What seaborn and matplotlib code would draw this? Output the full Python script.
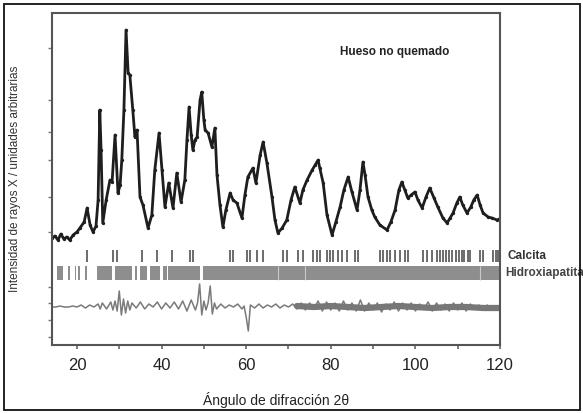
import numpy as np
import pandas as pd
import matplotlib
matplotlib.use("Agg")
import matplotlib.pyplot as plt
from matplotlib.patches import Rectangle
import seaborn as sns

# ---- data (2theta in degrees, intensity in arbitrary units) ----
two_theta = [14.1, 14.8, 15.5, 16.2, 16.9, 17.6, 18.3, 19.1, 20.0, 20.7, 21.7, 22.4, 23.1, 23.8,
             24.5, 25.0, 25.4, 25.7, 26.1, 26.9, 27.8, 28.3, 29.0, 29.7, 30.2, 30.6, 31.1, 31.6,
             32.1, 32.5, 33.2, 33.7, 34.2, 34.9, 35.6, 36.8, 37.7, 38.4, 39.4, 40.1, 40.8, 41.7,
             42.7, 43.6, 44.6, 45.5, 46.0, 46.5, 47.0, 47.4, 47.9, 48.4, 49.1, 49.5, 50.0, 50.3,
             51.0, 51.9, 52.6, 53.1, 53.8, 54.5, 55.2, 56.2, 56.9, 57.8, 59.0, 59.7, 60.4, 61.6,
             62.3, 63.3, 64.0, 64.9, 66.1, 66.8, 67.5, 68.5, 69.6, 70.6, 71.5, 72.7, 73.4, 74.4,
             75.6, 76.3, 77.0, 77.4, 78.2, 79.1, 80.3, 81.2, 82.2, 83.1, 84.1, 85.0, 86.2, 86.9,
             87.6, 88.1, 88.8, 89.7, 90.4, 91.6, 93.3, 94.2, 95.2, 96.1, 96.8, 97.5, 98.2, 99.0,
             99.9, 100.6, 101.6, 102.5, 103.4, 104.4, 105.3, 106.5, 107.5, 108.2, 108.9, 109.8,
             110.5, 111.2, 112.2, 113.1, 113.8, 114.6, 115.3, 116.0, 117.2, 118.1, 119.3, 119.8]
intensity = [107, 109, 105, 111, 106, 108, 105, 110, 113, 117, 123, 137, 120, 113,
             119, 145, 235, 195, 122, 145, 165, 163, 210, 152, 160, 185, 235, 315,
             272, 270, 235, 208, 215, 148, 140, 117, 130, 175, 212, 175, 138, 162,
             137, 172, 143, 165, 205, 238, 210, 195, 205, 208, 245, 253, 225, 215,
             212, 198, 217, 170, 140, 118, 135, 152, 145, 142, 127, 150, 168, 177,
             162, 190, 203, 182, 148, 125, 112, 117, 125, 145, 158, 142, 155, 165,
             175, 180, 185, 177, 162, 130, 110, 123, 138, 155, 168, 153, 135, 155,
             183, 170, 148, 135, 128, 120, 115, 123, 135, 155, 163, 155, 147, 150,
             153, 145, 137, 148, 157, 147, 138, 127, 122, 127, 132, 142,
             148, 140, 132, 138, 145, 150, 140, 132, 128, 127, 125, 126]

calcita_pos = [22.4, 28.5, 29.5, 35.4, 38.9, 42.5, 46.7, 47.4, 56.2, 56.9, 60.2, 60.9, 62.6,
               64.0, 68.7, 69.6, 72.2, 73.4, 75.8, 76.7, 77.4, 79.1, 79.8, 80.5, 81.7, 82.6,
               83.8, 85.7, 86.4, 91.6, 92.3, 93.3, 94.0, 95.2, 96.4, 97.5, 98.3, 101.8, 102.7,
               103.9, 105.1, 105.8, 106.5, 107.3, 108.0, 108.7, 109.5, 110.2, 111.0, 111.6,
               112.4, 112.9, 115.3, 116.0, 118.3, 119.1, 119.5]

hap_start = [15.3, 17.9, 19.5, 20.2, 21.9, 24.7, 29.0, 33.7, 34.9, 37.3, 40.3, 41.5, 49.8]
hap_end = [16.7, 18.3, 19.7, 20.7, 22.4, 28.3, 33.0, 34.2, 36.5, 39.6, 41.3, 49.1, 120.0]
hap_gaps = [67.5, 73.9, 115.3]

diff_x = [14.2, 15, 16, 17, 18, 19, 20, 21, 22, 23, 24, 25, 25.5, 26, 27, 28, 28.5, 29, 29.5,
          30, 30.5, 31, 31.5, 32, 32.5, 33, 34, 35, 36, 37, 38, 39, 40, 41, 42, 43, 44, 45, 46,
          47, 48, 48.5, 49, 49.5, 50, 50.5, 51, 51.5, 52, 52.5, 53, 54, 55, 56, 57, 58, 59, 59.5,
          60, 60.5, 61, 62, 63, 64, 65, 66, 67, 68, 69, 70, 71, 72, 73, 74, 75, 76, 77, 78, 79,
          80, 81, 82, 83, 84, 85, 86, 87, 88, 89, 90, 91, 92, 93, 94, 95, 96, 97, 98, 99, 100,
          101, 102, 103, 104, 105, 106, 107, 108, 109, 110, 111, 112, 113, 114, 115, 116, 117,
          118, 119, 120]
diff_y = [38, 38, 39, 38, 38, 39, 38, 40, 37, 40, 38, 41, 36, 42, 36, 43, 35, 44, 34,
          54, 30, 46, 32, 44, 35, 42, 37, 43, 36, 41, 38, 43, 36, 42, 37, 43, 36, 44, 34,
          45, 35, 42, 61, 30, 44, 35, 42, 59, 31, 42, 36, 41, 37, 40, 38, 41, 36, 39,
          28, 14, 40, 37, 41, 37, 40, 38, 41, 37, 40, 38, 41, 36, 42, 35, 42, 36, 44, 34, 43,
          35, 42, 34, 44, 35, 42, 34, 45, 34, 42, 35, 42, 33, 41, 35, 43, 34, 42, 35, 42, 34,
          41, 36, 43, 34, 42, 35, 41, 34, 42, 35, 42, 34, 41, 36, 40, 35, 40,
          36, 39, 36]

band_x = [72, 76, 80, 84, 88, 92, 96, 100, 104, 108, 112, 116, 120]
band_y = [39, 38, 39, 38, 37, 38, 39, 38, 37, 38, 38, 37, 37]

xticks = [20, 40, 60, 80, 100, 120]
yminor = [8, 25, 42, 58, 113, 148, 185, 213, 245, 297]

# ---- figure ----
sns.set_theme(style="ticks")
plt.rcParams['font.family'] = ['Liberation Sans', 'DejaVu Sans']

fig = plt.figure(figsize=(5.83, 4.13), dpi=100)
fig.patch.set_facecolor("white")
ax = fig.add_axes([52 / 583, 1 - 345 / 413, 448 / 583, 332 / 413])

df = pd.DataFrame({"x": two_theta, "y": intensity})
sns.lineplot(data=df, x="x", y="y", ax=ax, color="#1e1e1e", linewidth=2.0,
             marker="o", markersize=2.4, markeredgewidth=0, sort=False)

# difference curve
dd = pd.DataFrame({"x": diff_x, "y": diff_y})
sns.lineplot(data=dd, x="x", y="y", ax=ax, color="#7a7a7a", linewidth=1.1, sort=False)
bd = pd.DataFrame({"x": band_x, "y": band_y})
sns.lineplot(data=bd, x="x", y="y", ax=ax, color="#777777", linewidth=4.5, sort=False)

# reflection markers
ax.vlines(calcita_pos, 83, 95, color="#444444", linewidth=1.1)
ax.broken_barh([(s, e - s) for s, e in zip(hap_start, hap_end)], (65, 14),
               facecolors="#8e8e8e", edgecolor="none")
ax.vlines(hap_gaps, 65, 79, color="#c8c8c8", linewidth=0.8)

ax.set_xlim(14.1, 120)
ax.set_ylim(0, 332)
ax.set_xticks(xticks)
ax.set_xticklabels([str(t) for t in xticks], fontsize=12, color="#222222")
ax.set_xticks([30, 50, 70, 90, 110], minor=True)
ax.set_yticks([])
ax.set_yticks(yminor, minor=True)
ax.tick_params(axis="x", which="both", direction="out", length=3, width=1.2, color="#666666", pad=6)
ax.tick_params(axis="y", which="minor", direction="out", length=3, width=1, color="#777777")
for sp in ax.spines.values():
    sp.set_visible(True)
    sp.set_color("#555555")
    sp.set_linewidth(1.5)

ax.set_xlabel("Ángulo de difracción 2θ", fontsize=10, color="#222222", labelpad=14)
ax.set_ylabel("Intensidad de rayos X / unidades arbitrarias", fontsize=8.5, color="#333333",
              labelpad=16)

ax.text(82.2, 293, "Hueso no quemado", fontsize=8.5, fontweight="bold", color="#222222",
        va="center", ha="left")
ax.text(121.8, 89, "Calcita", fontsize=8.5, fontweight="bold", color="#333333",
        va="center", ha="left", clip_on=False)
ax.text(121.3, 72, "Hidroxiapatita", fontsize=8.5, fontweight="bold", color="#444444",
        va="center", ha="left", clip_on=False)

fig.patches.append(Rectangle((4 / 583, 3 / 413), 576 / 583, 406 / 413, transform=fig.transFigure,
                             fill=False, edgecolor="#111111", linewidth=1.3))

fig.savefig("out.png", dpi=100)
